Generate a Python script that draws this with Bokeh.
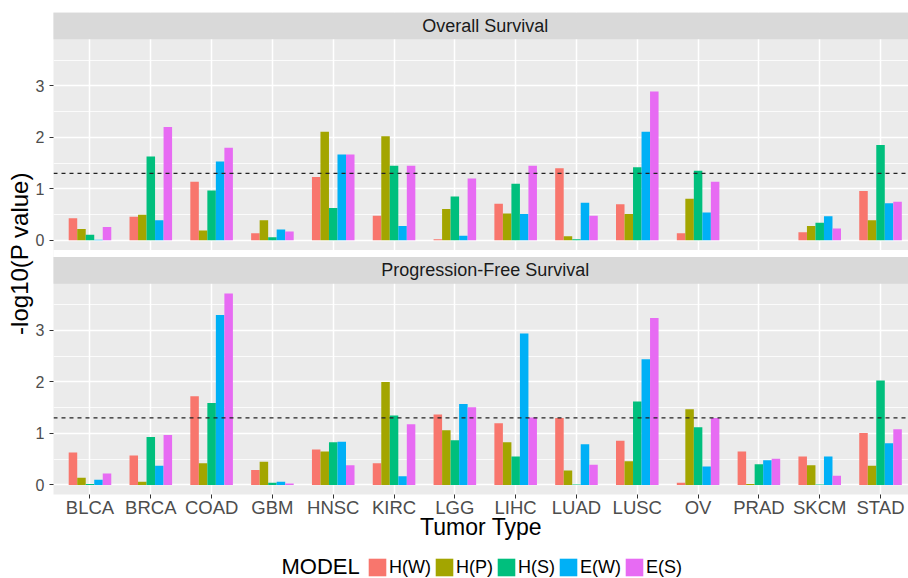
import math
import numpy as np
from bokeh.plotting import figure
from bokeh.layouts import column
from bokeh.models import (Range1d, FixedTicker, CustomJSTickFormatter, Span, Title,
                          Legend, LegendItem)
from bokeh.core.properties import value
from bokeh.embed import file_html
from bokeh.resources import INLINE

nan = float("nan")

# ---------------- data ----------------
tumors = ["BLCA", "BRCA", "COAD", "GBM", "HNSC", "KIRC", "LGG",
          "LIHC", "LUAD", "LUSC", "OV", "PRAD", "SKCM", "STAD"]
models = ["H(W)", "H(P)", "H(S)", "E(W)", "E(S)"]
colors = ["#F8766D", "#A3A500", "#00BF7D", "#00B0F6", "#E76BF3"]
panel_titles = ["Overall Survival", "Progression-Free Survival"]

# Overall Survival, -log10(P value)  (PRAD not available)
os_hw = [0.43, 0.46, 1.14, 0.14, 1.23, 0.48, 0.02, 0.71, 1.40, 0.70, 0.14, nan, 0.16, 0.96]
os_hp = [0.22, 0.50, 0.19, 0.39, 2.11, 2.02, 0.61, 0.52, 0.08, 0.51, 0.81, nan, 0.28, 0.39]
os_hs = [0.11, 1.63, 0.97, 0.06, 0.63, 1.45, 0.85, 1.10, 0.02, 1.42, 1.35, nan, 0.34, 1.85]
os_ew = [0.01, 0.39, 1.53, 0.21, 1.67, 0.28, 0.09, 0.51, 0.73, 2.11, 0.54, nan, 0.47, 0.72]
os_es = [0.26, 2.20, 1.80, 0.17, 1.67, 1.45, 1.20, 1.45, 0.48, 2.89, 1.14, nan, 0.23, 0.75]

# Progression-Free Survival, -log10(P value)
pfs_hw = [0.63, 0.57, 1.72, 0.29, 0.69, 0.42, 1.37, 1.20, 1.30, 0.86, 0.04, 0.65, 0.55, 1.01]
pfs_hp = [0.14, 0.06, 0.42, 0.45, 0.65, 2.00, 1.06, 0.83, 0.28, 0.46, 1.47, 0.02, 0.38, 0.37]
pfs_hs = [0.02, 0.93, 1.59, 0.04, 0.83, 1.35, 0.87, 0.55, 0.01, 1.62, 1.12, 0.40, 0.01, 2.03]
pfs_ew = [0.10, 0.37, 3.30, 0.06, 0.84, 0.17, 1.57, 2.94, 0.79, 2.44, 0.36, 0.48, 0.55, 0.81]
pfs_es = [0.22, 0.97, 3.72, 0.03, 0.38, 1.18, 1.51, 1.31, 0.39, 3.24, 1.30, 0.51, 0.18, 1.08]

threshold = -math.log10(0.05)
y_ticks = [0, 1, 2, 3]
legend_title = "MODEL"

os_series = [os_hw, os_hp, os_hs, os_ew, os_es]
pfs_series = [pfs_hw, pfs_hp, pfs_hs, pfs_ew, pfs_es]

# ---------------- layout constants ----------------
FONTNAME = "Liberation Sans"
FONT = value(FONTNAME)
OFF = 4.75          # vertical offset of upper panel (in value units)
STRIP = 0.52        # strip height (value units)
BAR_W = 0.14        # dodge width per bar
LEFT, FRAME_W = 53, 855
n = len(tumors)
xs = np.arange(1, n + 1)

ymax = float(np.nanmax(np.array(os_series + pfs_series, dtype=float)))
pad = 0.05 * ymax
lo = -pad
hi = OFF + ymax + pad + STRIP
x_lo, x_hi = 0.4, 14.46

p = figure(frame_width=FRAME_W, frame_height=482,
           x_range=Range1d(x_lo, x_hi), y_range=Range1d(lo, hi),
           output_backend="svg", toolbar_location=None,
           min_border_left=LEFT, min_border_right=0, min_border_top=12, min_border_bottom=54,
           background_fill_color="#EBEBEB", border_fill_color="white",
           outline_line_color=None)
p.extra_y_ranges = {"top": Range1d(lo - OFF, hi - OFF)}

# grid
p.xgrid.grid_line_color = "white"
p.xgrid.grid_line_width = 1.5
p.ygrid.grid_line_color = "white"
p.ygrid.grid_line_width = 1.5
p.ygrid.minor_grid_line_color = "white"
p.ygrid.minor_grid_line_width = 0.8

# strips and gap
strip_bottom = ymax + pad
for rng in ["default", "top"]:
    p.quad(left=[x_lo - 1], right=[x_hi + 1], bottom=[strip_bottom], top=[strip_bottom + STRIP],
           fill_color="#D9D9D9", line_color=None, y_range_name=rng)
p.quad(left=[x_lo - 1], right=[x_hi + 1], bottom=[strip_bottom + STRIP], top=[OFF - pad],
       fill_color="white", line_color=None)

for rng, title in [("top", panel_titles[0]), ("default", panel_titles[1])]:
    p.text(x=[(xs[0] + xs[-1]) / 2], y=[strip_bottom + STRIP / 2], text=[title],
           text_align="center", text_baseline="middle", text_font=FONT,
           text_font_size="18px", text_color="#1A1A1A", y_range_name=rng)

# bars
for rng, series in [("top", os_series), ("default", pfs_series)]:
    for j, vals in enumerate(series):
        v = np.array(vals, dtype=float)
        ok = ~np.isnan(v)
        p.vbar(x=(xs + (j - 2) * BAR_W)[ok], top=v[ok], bottom=0, width=BAR_W,
               fill_color=colors[j], line_color=None, y_range_name=rng)

# threshold lines
for rng in ["default", "top"]:
    p.add_layout(Span(location=threshold, dimension="width", line_color="#222222",
                      line_width=1.2, line_dash="4 4", y_range_name=rng))

# axes
p.xaxis.ticker = FixedTicker(ticks=[int(i) for i in xs])
p.xaxis.major_label_overrides = {int(i): t for i, t in zip(xs, tumors)}
p.xaxis.axis_line_color = None
p.xaxis.major_tick_out = 4
p.xaxis.major_tick_in = 0
p.xaxis.major_tick_line_color = "#333333"
p.xaxis.minor_tick_line_color = None
p.xaxis.major_label_text_font = FONTNAME
p.xaxis.major_label_text_font_size = "18.5px"
p.xaxis.major_label_text_color = "#4D4D4D"
p.xaxis.major_label_standoff = -2
p.xaxis.axis_label = "Tumor Type"
p.xaxis.axis_label_text_font = FONTNAME
p.xaxis.axis_label_text_font_size = "23px"
p.xaxis.axis_label_text_font_style = "normal"
p.xaxis.axis_label_text_color = "black"
p.xaxis.axis_label_standoff = -7

ticks = list(y_ticks) + [t + OFF for t in y_ticks]
minors = [t + 0.5 for t in y_ticks] + [t + 0.5 + OFF for t in y_ticks]
p.yaxis.ticker = FixedTicker(ticks=ticks, minor_ticks=minors)
p.yaxis.formatter = CustomJSTickFormatter(
    args=dict(off=OFF), code="const v = tick > off - 1 ? tick - off : tick; return v.toFixed(0);")
p.yaxis.axis_line_color = None
p.yaxis.major_tick_out = 4
p.yaxis.major_tick_in = 0
p.yaxis.major_tick_line_color = "#333333"
p.yaxis.minor_tick_line_color = None
p.yaxis.major_label_text_font = FONTNAME
p.yaxis.major_label_text_font_size = "16px"
p.yaxis.major_label_text_color = "#4D4D4D"
p.yaxis.major_label_standoff = 5

# y-axis title (shared by both panels)
p.add_layout(Title(text="-log10(P value)", align="center",
                   text_font=FONTNAME, text_font_size="24px", text_font_style="normal",
                   text_color="black", standoff=0), "left")

# ---------------- legend (own strip below the plot; data units = page pixels) ----------------
LG_H = 30
lg = figure(frame_width=FRAME_W, frame_height=LG_H,
            x_range=Range1d(LEFT, LEFT + FRAME_W), y_range=Range1d(0, LG_H),
            output_backend="svg", toolbar_location=None,
            min_border_left=LEFT, min_border_right=0, min_border_top=0, min_border_bottom=0,
            outline_line_color=None, background_fill_color="white", border_fill_color="white")
lg.axis.visible = False
lg.grid.visible = False
lg.text(x=[281], y=[12], text=[legend_title], text_align="left", text_baseline="middle",
        text_font=FONT, text_font_size="22px", text_color="black")
# hidden proxy renderers that only supply the legend swatches
proxies = [lg.vbar(x=[0], top=[0], width=1, fill_color=c, line_color=None, visible=False)
           for c in colors]
legend = Legend(items=[LegendItem(label=m, renderers=[r]) for m, r in zip(models, proxies)],
                orientation="horizontal", location=(366 - LEFT, 0),
                label_text_font=FONTNAME, label_text_font_size="18px", label_text_color="black",
                glyph_width=22, glyph_height=22, label_standoff=1, spacing=2,
                label_height=22, padding=0, margin=0, border_line_color=None,
                background_fill_color=None, click_policy="none")
lg.add_layout(legend, "center")

open("out.html", "w").write(file_html(column(p, lg, spacing=0), INLINE))
